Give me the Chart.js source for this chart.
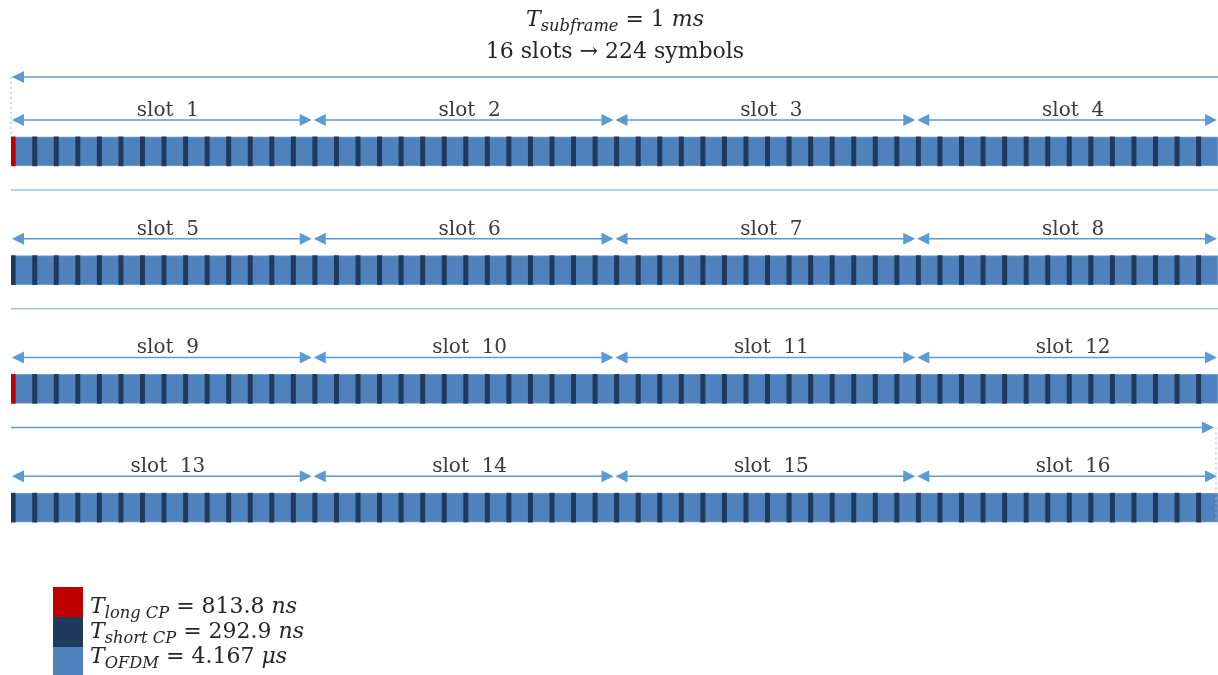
<!DOCTYPE html>
<html>
<head>
<meta charset="utf-8">
<script src="https://cdn.jsdelivr.net/npm/chart.js@4/dist/chart.umd.min.js"></script>
<style>
  body { margin: 0; background: #fff; }
  #wrap { position: relative; width: 1218px; height: 675px; overflow: hidden; font-family: "DejaVu Serif", serif; color: #262626; }
  #title { position: absolute; left: 6px; top: 3px; width: 1218px; text-align: center; font-size: 22px; line-height: 32px; }
  #legend { position: absolute; left: 90px; top: 593px; font-size: 22px; line-height: 25px; white-space: nowrap; }
  .swatch { position: absolute; left: 53px; width: 30px; height: 30px; }
  i { font-style: italic; }
  sub { font-size: 0.74em; vertical-align: -0.3em; line-height: 0; font-style: italic; }
  canvas { position: absolute; left: 0; top: 0; }
</style>
</head>
<body>
<div id="wrap">
  <canvas id="frameChart" width="1218" height="675"></canvas>
  <div id="title"></div>
  <div id="swatches"></div>
  <div id="legend"></div>
</div>
<script>
// numerology of the subframe
const rowLabels = ['slots 1-4', 'slots 5-8', 'slots 9-12', 'slots 13-16'];
const slotLabels = ['slot  1', 'slot  2', 'slot  3', 'slot  4',
                    'slot  5', 'slot  6', 'slot  7', 'slot  8',
                    'slot  9', 'slot  10', 'slot  11', 'slot  12',
                    'slot  13', 'slot  14', 'slot  15', 'slot  16'];
const slotsPerRow = 4;
const symbolsPerSlot = 14;
const longCpSymbols = [0, 112];          // first symbol of each 0.5 ms half
const subframeMs = 1;
const slotCount = 16;
const symbolCount = 224;
const longCpNs = 813.8;
const shortCpNs = 292.9;
const ofdmUs = 4.167;

const symbolsPerRow = slotsPerRow * symbolsPerSlot;

// colours
const RED = '#c00000';
const NAVY = '#203a5e';
const BLUE = '#4f81bd';
const ARROW = '#5b9bd5';

// the CP stripes are drawn wider than scale, like the picture
const cpShare = 0.2;

const longCp = [];
const shortCp = [];
rowLabels.forEach((row, r) => {
    for (let c = 0; c < symbolsPerRow; c++) {
        const bar = { y: row, x: [c, c + cpShare] };
        if (longCpSymbols.includes(r * symbolsPerRow + c)) longCp.push(bar);
        else shortCp.push(bar);
    }
});
const ofdm = rowLabels.map(row => ({ y: row, x: [0, symbolsPerRow] }));

// title and legend text
document.getElementById('title').innerHTML =
    '<i>T</i><sub>subframe</sub> = ' + subframeMs + ' <i>ms</i><br>' +
    slotCount + ' slots &rarr; ' + symbolCount + ' symbols';

const legendRows = [
    { color: RED, html: '<i>T</i><sub>long CP</sub> = ' + longCpNs + ' <i>ns</i>' },
    { color: NAVY, html: '<i>T</i><sub>short CP</sub> = ' + shortCpNs + ' <i>ns</i>' },
    { color: BLUE, html: '<i>T</i><sub>OFDM</sub> = ' + ofdmUs + ' <i>&mu;s</i>' },
];
document.getElementById('legend').innerHTML = legendRows.map(l => l.html).join('<br>');
document.getElementById('swatches').innerHTML = legendRows.map((l, i) =>
    '<div class="swatch" style="top:' + (587 + i * 30) + 'px;background:' + l.color + '"></div>').join('');

const BAR_H = 29;

function arrowHead(ctx, x, y, dir) {
    // dir = 1 points right, -1 points left, x is the tip
    ctx.beginPath();
    ctx.moveTo(x, y);
    ctx.lineTo(x - dir * 12, y - 6);
    ctx.lineTo(x - dir * 12, y + 6);
    ctx.closePath();
    ctx.fill();
}

function hLine(ctx, x1, x2, y, color, width) {
    ctx.strokeStyle = color;
    ctx.lineWidth = width;
    ctx.beginPath();
    ctx.moveTo(x1, y);
    ctx.lineTo(x2, y);
    ctx.stroke();
}

function dotted(ctx, x, y1, y2) {
    ctx.save();
    ctx.strokeStyle = '#9fb2c6';
    ctx.lineWidth = 1;
    ctx.setLineDash([2, 3]);
    ctx.beginPath();
    ctx.moveTo(x, y1);
    ctx.lineTo(x, y2);
    ctx.stroke();
    ctx.restore();
}

const slotArrows = {
    id: 'slotArrows',
    afterDatasetsDraw(chart) {
        const { ctx, scales: { x, y } } = chart;
        const left = x.getPixelForValue(0);
        const right = x.getPixelForValue(symbolsPerRow);
        ctx.save();
        ctx.fillStyle = ARROW;

        // total subframe arrow above the first row
        const top0 = y.getPixelForValue(0) - BAR_H / 2;
        const yTop = top0 - 60;
        hLine(ctx, left + 2, right, yTop, ARROW, 1.5);
        arrowHead(ctx, left + 1, yTop, -1);
        dotted(ctx, left, yTop, top0);

        rowLabels.forEach((row, r) => {
            const barTop = y.getPixelForValue(r) - BAR_H / 2;
            const barBottom = barTop + BAR_H;
            const ay = barTop - 17;
            for (let s = 0; s < slotsPerRow; s++) {
                const x1 = x.getPixelForValue(s * symbolsPerSlot);
                const x2 = x.getPixelForValue((s + 1) * symbolsPerSlot);
                hLine(ctx, x1 + 4, x2 - 4, ay, ARROW, 1.5);
                ctx.fillStyle = ARROW;
                arrowHead(ctx, x1 + 1, ay, -1);
                arrowHead(ctx, x2 - 1, ay, 1);
                ctx.fillStyle = '#3a3a3a';
                ctx.font = '20px "DejaVu Serif"';
                ctx.textAlign = 'center';
                ctx.textBaseline = 'alphabetic';
                ctx.fillText(slotLabels[r * slotsPerRow + s], (x1 + x2) / 2 + 6, ay - 4);
            }
            // line under the row
            if (r < rowLabels.length - 1) {
                const ly = barBottom + 24;
                if (r === 2) {
                    hLine(ctx, left, right - 6, ly, ARROW, 1.5);
                    ctx.fillStyle = ARROW;
                    arrowHead(ctx, right - 4, ly, 1);
                    const lastBottom = y.getPixelForValue(3) + BAR_H / 2;
                    dotted(ctx, right - 2, ly, lastBottom);
                } else {
                    hLine(ctx, left, right, ly, '#9dc3e6', 1.5);
                }
            }
        });
        ctx.restore();
    }
};

const ctx = document.getElementById('frameChart').getContext('2d');
new Chart(ctx, {
    type: 'bar',
    data: {
        labels: rowLabels,
        datasets: [
            { label: 'long CP', data: longCp, backgroundColor: RED, grouped: false, barThickness: BAR_H },
            { label: 'short CP', data: shortCp, backgroundColor: NAVY, grouped: false, barThickness: BAR_H },
            { label: 'OFDM', data: ofdm, backgroundColor: BLUE, borderColor: '#7a9fcf', borderWidth: 1,
              borderSkipped: false, grouped: false, barThickness: BAR_H },
        ],
    },
    options: {
        indexAxis: 'y',
        responsive: false,
        animation: false,
        layout: { padding: { left: 11, right: 0, top: 92, bottom: 108 } },
        plugins: { legend: { display: false }, tooltip: { enabled: false } },
        scales: {
            x: { type: 'linear', min: 0, max: symbolsPerRow, display: false },
            y: { type: 'category', offset: true, display: false },
        },
    },
    plugins: [slotArrows],
});
</script>
</body>
</html>
